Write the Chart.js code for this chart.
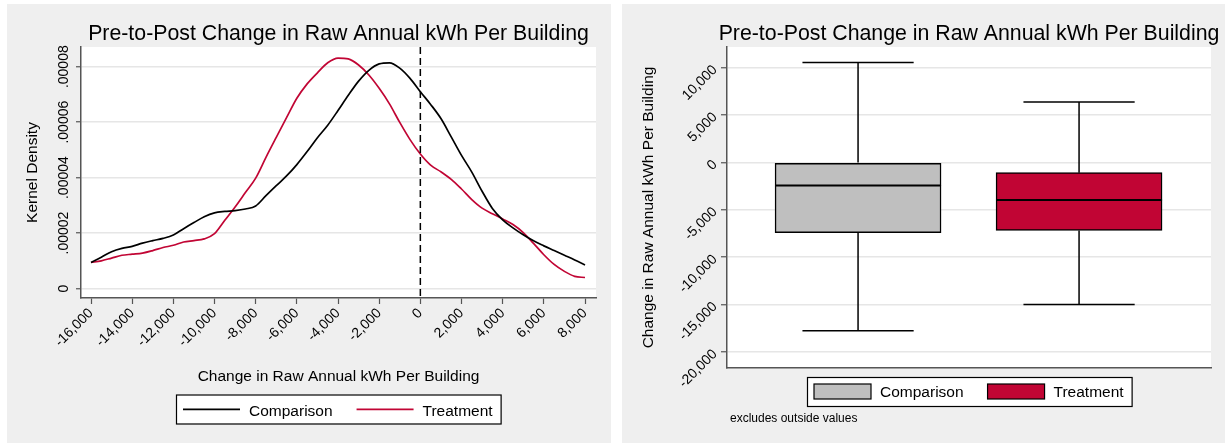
<!DOCTYPE html>
<html>
<head>
<meta charset="utf-8">
<script src="https://cdn.jsdelivr.net/npm/chart.js@4.4.1/dist/chart.umd.min.js"></script>
<style>
  body { margin: 0; background: #fff; }
  .panel { position: absolute; top: 4px; height: 439px; }
  #leftPanel { left: 7px; width: 604px; }
  #rightPanel { left: 622px; width: 603px; }
</style>
</head>
<body>
<div class="panel" id="leftPanel"><canvas id="densityChart" width="604" height="439"></canvas></div>
<div class="panel" id="rightPanel"><canvas id="boxChart" width="603" height="439"></canvas></div>
<script>
const FONT = "'Liberation Sans', Arial, Helvetica, sans-serif";
const TITLE = 'Pre-to-Post Change in Raw Annual kWh Per Building';
const AXIS_LABEL = 'Change in Raw Annual kWh Per Building';
const RED = '#c10534';

// Kernel density curves (density values are x 1e-5)
const densityUnit = 1e-5;
const kwhChange = [-16000, -15500, -15000, -14500, -14000, -13500, -13000, -12500, -12000,
  -11500, -11000, -10500, -10000, -9500, -9000, -8500, -8000, -7500, -7000, -6500, -6000,
  -5500, -5000, -4500, -4000, -3500, -3000, -2500, -2000, -1500, -1000, -500, 0, 500, 1000,
  1500, 2000, 2500, 3000, 3500, 4000, 4500, 5000, 5500, 6000, 6500, 7000, 7500, 8000];
const comparisonDensity = [0.94, 1.13, 1.33, 1.45, 1.52, 1.64, 1.73, 1.81, 1.93, 2.16, 2.38,
  2.59, 2.73, 2.78, 2.81, 2.87, 2.98, 3.35, 3.71, 4.06, 4.47, 4.94, 5.44, 5.89, 6.42, 6.97,
  7.48, 7.87, 8.10, 8.14, 7.95, 7.58, 7.10, 6.64, 6.13, 5.47, 4.80, 4.20, 3.51, 2.89, 2.48,
  2.19, 1.94, 1.72, 1.54, 1.37, 1.20, 1.03, 0.85];
const treatmentDensity = [0.94, 1.00, 1.10, 1.20, 1.24, 1.28, 1.37, 1.48, 1.56, 1.68, 1.73,
  1.79, 1.98, 2.46, 2.94, 3.46, 3.98, 4.73, 5.45, 6.16, 6.86, 7.38, 7.78, 8.14, 8.31, 8.28,
  8.06, 7.70, 7.22, 6.66, 5.99, 5.37, 4.85, 4.45, 4.21, 3.94, 3.59, 3.21, 2.90, 2.70, 2.51,
  2.31, 2.02, 1.63, 1.22, 0.87, 0.62, 0.44, 0.40];
const densityXTicks = [-16000, -14000, -12000, -10000, -8000, -6000, -4000, -2000, 0, 2000, 4000, 6000, 8000];
const densityYTicks = [0, 0.00002, 0.00004, 0.00006, 0.00008];
const refLineX = 0;

// Box plot (outside values excluded)
const boxGroups = ['Comparison', 'Treatment'];
const boxPositions = [1, 2];
const whiskerHigh = [10550, 6380];
const boxQ3 = [0, -1080];
const boxMedian = [-2420, -3970];
const boxQ1 = [-7420, -7180];
const whiskerLow = [-17750, -14980];
const boxYTicks = [-20000, -15000, -10000, -5000, 0, 5000, 10000];
const boxColors = ['#bfbfbf', RED];

function line(ctx, x1, y1, x2, y2) {
  ctx.beginPath();
  ctx.moveTo(x1, y1);
  ctx.lineTo(x2, y2);
  ctx.stroke();
}

// gray panel, white plot region, title, boxed legend, note
const stataPanel = {
  id: 'stataPanel',
  beforeDraw(chart) {
    const {ctx, width, height, chartArea: a} = chart;
    ctx.save();
    ctx.fillStyle = '#efefef';
    ctx.fillRect(0, 0, width, height);
    ctx.fillStyle = '#fff';
    ctx.fillRect(a.left, a.top, a.right - a.left, a.bottom - a.top);
    ctx.restore();
  },
  afterDraw(chart, args, opts) {
    const {ctx, chartArea: a} = chart;
    const mid = (a.left + a.right) / 2;
    ctx.save();
    ctx.fillStyle = '#000';
    ctx.font = '21.3px ' + FONT;
    ctx.textAlign = 'center';
    ctx.textBaseline = 'alphabetic';
    ctx.fillText(opts.title, mid, opts.titleY);

    // legend
    const lg = opts.legend;
    ctx.font = '15.5px ' + FONT;
    const widths = lg.items.map(it => ctx.measureText(it.text).width);
    let total = 7 + 8 + 24 * (lg.items.length - 1);
    widths.forEach(w => { total += 57 + 9 + w; });
    const left = Math.round(mid - total / 2);
    ctx.fillStyle = '#fff';
    ctx.fillRect(left, lg.top, total, 29);
    ctx.strokeStyle = '#000';
    ctx.lineWidth = 1.2;
    ctx.strokeRect(left + 0.5, lg.top + 0.5, total, 29);
    let x = left + 7;
    lg.items.forEach((it, i) => {
      if (it.line) {
        ctx.strokeStyle = it.color;
        ctx.lineWidth = 1.8;
        line(ctx, x, lg.top + 14.8, x + 57, lg.top + 14.8);
      } else {
        ctx.fillStyle = it.color;
        ctx.fillRect(x, lg.top + 7, 57, 15);
        ctx.strokeStyle = '#000';
        ctx.lineWidth = 1.2;
        ctx.strokeRect(x, lg.top + 7, 57, 15);
      }
      x += 57 + 9;
      ctx.fillStyle = '#000';
      ctx.textAlign = 'left';
      ctx.fillText(it.text, x, lg.top + lg.baseline);
      x += widths[i] + 24;
    });

    if (opts.note) {
      ctx.font = '12px ' + FONT;
      ctx.fillText(opts.note, opts.noteX, opts.noteY);
    }
    ctx.restore();
  }
};

// dashed reference line at zero
const refLine = {
  id: 'refLine',
  afterDatasetsDraw(chart) {
    const {ctx, chartArea: a, scales} = chart;
    const x = scales.x.getPixelForValue(refLineX);
    ctx.save();
    ctx.strokeStyle = '#000';
    ctx.lineWidth = 1.5;
    ctx.setLineDash([7, 4]);
    line(ctx, x, a.top, x, a.bottom);
    ctx.restore();
  }
};

// whiskers, caps and medians drawn on top of the floating bars
const boxWhiskers = {
  id: 'boxWhiskers',
  afterDatasetsDraw(chart) {
    const {ctx, scales} = chart;
    const y = scales.y;
    ctx.save();
    ctx.strokeStyle = '#000';
    chart.getDatasetMeta(0).data.forEach((bar, i) => {
      const {x, width} = bar.getProps(['x', 'width'], true);
      const half = width / 2;
      const cap = half * 0.67;
      const yHi = y.getPixelForValue(whiskerHigh[i]);
      const yLo = y.getPixelForValue(whiskerLow[i]);
      ctx.lineWidth = 1.5;
      line(ctx, x, y.getPixelForValue(boxQ3[i]), x, yHi);
      line(ctx, x, y.getPixelForValue(boxQ1[i]), x, yLo);
      line(ctx, x - cap, yHi, x + cap, yHi);
      line(ctx, x - cap, yLo, x + cap, yLo);
      ctx.lineWidth = 2;
      const yMed = y.getPixelForValue(boxMedian[i]);
      line(ctx, x - half, yMed, x + half, yMed);
    });
    ctx.restore();
  }
};

const tickFont = {family: FONT, size: 14};
const titleFont = {family: FONT, size: 15.5};

// Kernel Density Chart
new Chart(document.getElementById('densityChart'), {
  type: 'line',
  data: {
    datasets: [{
      label: 'Comparison',
      data: kwhChange.map((x, i) => ({x, y: comparisonDensity[i] * densityUnit})),
      borderColor: '#000',
      borderWidth: 1.7,
      pointRadius: 0,
      cubicInterpolationMode: 'monotone'
    }, {
      label: 'Treatment',
      data: kwhChange.map((x, i) => ({x, y: treatmentDensity[i] * densityUnit})),
      borderColor: RED,
      borderWidth: 1.7,
      pointRadius: 0,
      cubicInterpolationMode: 'monotone'
    }]
  },
  options: {
    responsive: false,
    animation: false,
    devicePixelRatio: 1,
    layout: { padding: { top: 43, right: 15, left: 0, bottom: 0 } },
    plugins: {
      legend: { display: false },
      tooltip: { enabled: false },
      stataPanel: {
        title: TITLE,
        titleY: 36,
        legend: {
          top: 390.5,
          baseline: 21,
          items: [
            { text: 'Comparison', color: '#000', line: true },
            { text: 'Treatment', color: RED, line: true }
          ]
        }
      }
    },
    scales: {
      x: {
        type: 'linear',
        min: -16486,
        max: 8534,
        afterBuildTicks: s => { s.ticks = densityXTicks.map(v => ({value: v})); },
        afterFit: s => { s.height = 145; },
        ticks: {
          autoSkip: false, minRotation: 45, maxRotation: 45, padding: 1,
          color: '#000', font: tickFont,
          callback: v => v.toLocaleString('en-US')
        },
        grid: { drawOnChartArea: false, tickLength: 6, tickColor: '#555', tickWidth: 1.2 },
        border: { color: '#555', width: 1.5 },
        title: { display: true, text: AXIS_LABEL, color: '#000', font: titleFont, padding: { top: 0, bottom: 57 } }
      },
      y: {
        min: -0.0000034,
        max: 0.0000871,
        afterBuildTicks: s => { s.ticks = densityYTicks.map(v => ({value: v})); },
        afterFit: s => { s.width = 74; },
        ticks: {
          autoSkip: false, minRotation: 90, maxRotation: 90, crossAlign: 'center', padding: -9.5,
          color: '#000', font: tickFont,
          callback: v => v === 0 ? '0' : v.toFixed(5).replace(/^0/, '')
        },
        grid: { color: '#e6e6e6', lineWidth: 1.5, tickLength: 5, tickColor: '#555', tickWidth: 1.2 },
        border: { color: '#555', width: 1.5 },
        title: { display: true, text: 'Kernel Density', color: '#000', font: titleFont, padding: { top: 16.2, bottom: 0 } }
      }
    }
  },
  plugins: [stataPanel, refLine]
});

// Box Plot Chart
new Chart(document.getElementById('boxChart'), {
  type: 'bar',
  data: {
    datasets: [{
      label: 'Change',
      data: boxPositions.map((x, i) => ({x, y: [boxQ1[i], boxQ3[i]]})),
      backgroundColor: boxColors,
      borderColor: '#000',
      borderWidth: 1.5,
      borderSkipped: false,
      barThickness: 166
    }]
  },
  options: {
    responsive: false,
    animation: false,
    devicePixelRatio: 1,
    layout: { padding: { top: 43, right: 14, left: 0, bottom: 0 } },
    plugins: {
      legend: { display: false },
      tooltip: { enabled: false },
      stataPanel: {
        title: TITLE,
        titleY: 36,
        note: 'excludes outside values',
        noteX: 108,
        noteY: 418,
        legend: {
          top: 373,
          baseline: 20.3,
          items: boxGroups.map((g, i) => ({ text: g, color: boxColors[i] }))
        }
      }
    },
    scales: {
      x: {
        type: 'linear',
        offset: false,
        min: 0.407,
        max: 2.597,
        afterFit: s => { s.height = 75; },
        ticks: { display: false },
        grid: { display: false },
        border: { color: '#555', width: 1.5 }
      },
      y: {
        min: -21688,
        max: 12183,
        afterBuildTicks: s => { s.ticks = boxYTicks.map(v => ({value: v})); },
        afterFit: s => { s.width = 105; },
        ticks: {
          autoSkip: false, minRotation: 45, maxRotation: 45, padding: 6,
          color: '#000', font: tickFont,
          callback: v => v.toLocaleString('en-US')
        },
        grid: { color: '#e6e6e6', lineWidth: 1.5, tickLength: 6, tickColor: '#555', tickWidth: 1.2 },
        border: { color: '#555', width: 1.5 },
        title: { display: true, text: AXIS_LABEL, color: '#000', font: titleFont, padding: { top: 17.2, bottom: 0 } }
      }
    }
  },
  plugins: [stataPanel, boxWhiskers]
});
</script>
</body>
</html>
